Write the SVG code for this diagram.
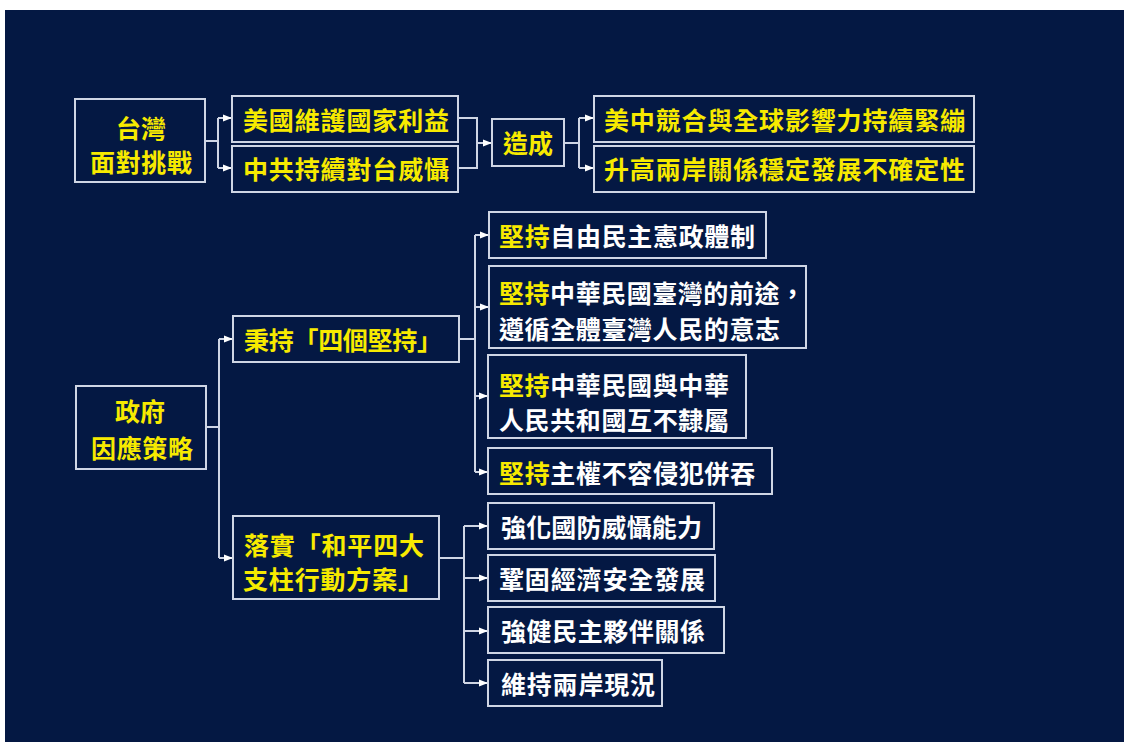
<svg xmlns="http://www.w3.org/2000/svg" width="1124" height="742" viewBox="0 0 1124 742">
<style>
.box{fill:#041843;stroke:#cfd5e4;stroke-width:2}
.ln{fill:none;stroke:#cfd5e4;stroke-width:2}
.ar{fill:none;stroke:#cfd5e4;stroke-width:2;marker-end:url(#ah)}
text{font-family:"Noto Sans CJK TC","Noto Sans CJK SC",sans-serif;font-weight:bold;font-size:25px;dominant-baseline:central}
.y{fill:#f7ea00}
.w{fill:#ffffff}
.c{text-anchor:middle}
</style>
<defs>
<marker id="ah" viewBox="0 0 10 10" refX="10" refY="5" markerWidth="9" markerHeight="9" markerUnits="userSpaceOnUse" orient="auto">
<path d="M0,1 L10,5 L0,9 z" fill="#ffffff"/>
</marker>
</defs>
<rect x="0" y="0" width="1124" height="742" fill="#ffffff"/>
<rect x="5" y="10" width="1119" height="732" fill="#041843"/>

<g id="connectors">
<path class="ln" d="M205,141 H218 M218,118 V168"/>
<path class="ar" d="M218,118 H232"/>
<path class="ar" d="M218,168 H232"/>
<path class="ln" d="M458,118 H477 V168 H458"/>
<path class="ar" d="M477,143 H492"/>
<path class="ln" d="M564,143 H579 M579,118 V168"/>
<path class="ar" d="M579,118 H594"/>
<path class="ar" d="M579,168 H594"/>
<path class="ln" d="M206,427 H219 M219,339 V558"/>
<path class="ar" d="M219,339 H233"/>
<path class="ar" d="M219,558 H233"/>
<path class="ln" d="M459,339 H475 M475,235 V472"/>
<path class="ar" d="M475,235 H489"/>
<path class="ar" d="M475,307 H489"/>
<path class="ar" d="M475,396 H488"/>
<path class="ar" d="M475,472 H488"/>
<path class="ln" d="M439,558 H464 M464,526 V683"/>
<path class="ar" d="M464,526 H488"/>
<path class="ar" d="M464,578 H488"/>
<path class="ar" d="M464,631 H488"/>
<path class="ar" d="M464,683 H488"/>
</g>

<g id="n1"><rect class="box" x="75" y="99" width="130" height="83"/>
<text class="y c" x="141" y="127">台灣</text>
<text class="y c" x="141" y="161" textLength="102" lengthAdjust="spacing">面對挑戰</text></g>

<g id="n2"><rect class="box" x="232" y="96" width="226" height="46"/>
<text class="y" x="243" y="119" textLength="206" lengthAdjust="spacing">美國維護國家利益</text></g>

<g id="n3"><rect class="box" x="232" y="146" width="226" height="46"/>
<text class="y" x="243" y="168" textLength="206" lengthAdjust="spacing">中共持續對台威懾</text></g>

<g id="n4"><rect class="box" x="492" y="119" width="72" height="47"/>
<text class="y c" x="528" y="142">造成</text></g>

<g id="n5"><rect class="box" x="594" y="96" width="380" height="46"/>
<text class="y" x="604" y="119" textLength="361" lengthAdjust="spacing">美中競合與全球影響力持續緊繃</text></g>

<g id="n6"><rect class="box" x="594" y="146" width="380" height="46"/>
<text class="y" x="604" y="168" textLength="361" lengthAdjust="spacing">升高兩岸關係穩定發展不確定性</text></g>

<g id="n7"><rect class="box" x="76" y="386" width="130" height="83"/>
<text class="y c" x="140" y="410">政府</text>
<text class="y c" x="142" y="447" textLength="102" lengthAdjust="spacing">因應策略</text></g>

<g id="n8"><rect class="box" x="233" y="316" width="226" height="46"/>
<text class="y" x="244" y="339" textLength="198" lengthAdjust="spacing">秉持「四個堅持」</text></g>

<g id="n9"><rect class="box" x="233" y="516" width="206" height="83"/>
<text class="y" x="244" y="544" textLength="180" lengthAdjust="spacing">落實「和平四大</text>
<text class="y" x="243" y="578" textLength="180" lengthAdjust="spacing">支柱行動方案」</text></g>

<g id="n10"><rect class="box" x="489" y="212" width="277" height="46"/>
<text class="w" x="499" y="235" textLength="256" lengthAdjust="spacing"><tspan class="y">堅持</tspan>自由民主憲政體制</text></g>

<g id="n11"><rect class="box" x="489" y="266" width="317" height="82"/>
<text class="w" x="499" y="292" textLength="306" lengthAdjust="spacing"><tspan class="y">堅持</tspan>中華民國臺灣的前途，</text>
<text class="w" x="499" y="328" textLength="281" lengthAdjust="spacing">遵循全體臺灣人民的意志</text></g>

<g id="n12"><rect class="box" x="488" y="355" width="258" height="83"/>
<text class="w" x="499" y="384" textLength="230" lengthAdjust="spacing"><tspan class="y">堅持</tspan>中華民國與中華</text>
<text class="w" x="499" y="419" textLength="230" lengthAdjust="spacing">人民共和國互不隸屬</text></g>

<g id="n13"><rect class="box" x="488" y="448" width="284" height="46"/>
<text class="w" x="499" y="472" textLength="256" lengthAdjust="spacing"><tspan class="y">堅持</tspan>主權不容侵犯併吞</text></g>

<g id="n14"><rect class="box" x="488" y="503" width="226" height="46"/>
<text class="w" x="501" y="526" textLength="201" lengthAdjust="spacing">強化國防威懾能力</text></g>

<g id="n15"><rect class="box" x="488" y="555" width="227" height="46"/>
<text class="w" x="499" y="578" textLength="206" lengthAdjust="spacing">鞏固經濟安全發展</text></g>

<g id="n16"><rect class="box" x="488" y="607" width="236" height="46"/>
<text class="w" x="501" y="630" textLength="204" lengthAdjust="spacing">強健民主夥伴關係</text></g>

<g id="n17"><rect class="box" x="488" y="660" width="174" height="46"/>
<text class="w" x="501" y="683" textLength="154" lengthAdjust="spacing">維持兩岸現況</text></g>
</svg>
